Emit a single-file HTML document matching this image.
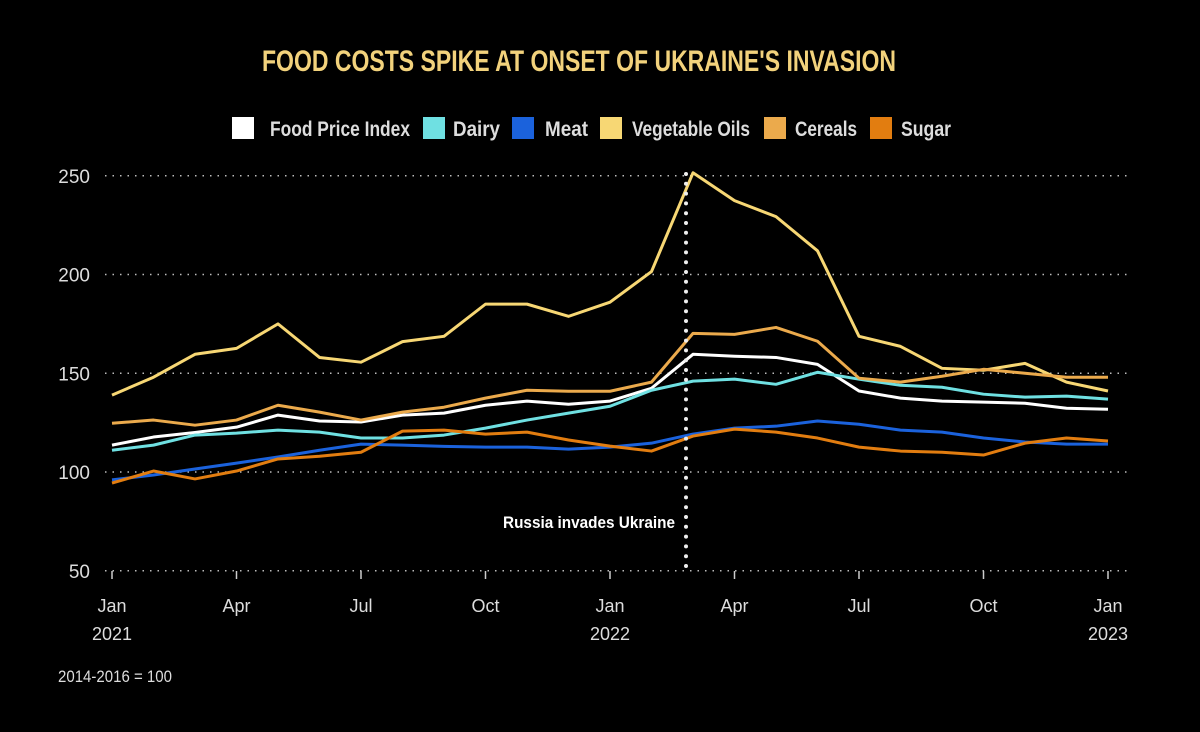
<!DOCTYPE html>
<html><head><meta charset="utf-8"><style>
html,body{margin:0;padding:0;background:#000;}
svg{display:block;font-family:"Liberation Sans",sans-serif;}
</style></head><body>
<svg id="chart" width="1200" height="732" viewBox="0 0 1200 732">
<rect width="1200" height="732" fill="#000"/>
<text x="262" y="71" fill="#f2d27c" font-size="30" font-weight="bold" textLength="634" lengthAdjust="spacingAndGlyphs">FOOD COSTS SPIKE AT ONSET OF UKRAINE'S INVASION</text>
<g id="legend"></g>
<g id="grid"></g>
<g id="axes"></g>
<g id="lines"></g>
<line x1="686" y1="174" x2="686" y2="570" stroke="#eee" stroke-width="4" stroke-linecap="round" stroke-dasharray="0,9.8"/>
<text x="675" y="528" fill="#fff" font-size="17" font-weight="bold" text-anchor="end" textLength="172" lengthAdjust="spacingAndGlyphs">Russia invades Ukraine</text>
<text x="58" y="682" fill="#ddd" font-size="17" textLength="114" lengthAdjust="spacingAndGlyphs">2014-2016 = 100</text>
</svg>
<script>
const months = ["Jan 2021","Feb","Mar","Apr","May","Jun","Jul","Aug","Sep","Oct","Nov","Dec","Jan 2022","Feb","Mar","Apr","May","Jun","Jul","Aug","Sep","Oct","Nov","Dec","Jan 2023"];
const yTicks = [50,100,150,200,250];
const xTickLabels = ["Jan","Apr","Jul","Oct","Jan","Apr","Jul","Oct","Jan"];
const xTickIdx = [0,3,6,9,12,15,18,21,24];
const yearLabels = {0:"2021",12:"2022",24:"2023"};
const seriesNames = ["Food Price Index","Dairy","Meat","Vegetable Oils","Cereals","Sugar"];
const seriesColors = ["#ffffff","#6fe0e2","#1b62dc","#f7d774","#ebaa4c","#e27d10"];
const foodIndex = [113.6,117.7,120,122.7,128.8,125.8,125.3,128.8,129.8,133.8,135.9,134.3,135.9,142.4,159.6,158.6,158,154.5,141,137.4,135.9,135.4,134.8,132.3,131.8];
const dairy = [111,113.6,118.7,119.7,121.2,120.2,117.2,117.2,118.7,122.2,126.3,129.8,133.3,141.4,146,147,144.4,150.5,147,143.9,142.9,139.4,137.9,138.4,136.9];
const meat = [96,98.5,101.5,104.5,107.6,111,114.1,113.6,113,112.6,112.6,111.6,112.6,114.6,119.2,122.2,123.2,125.8,124.2,121.2,120.2,117.2,115.2,114.1,114.1];
const vegOils = [138.9,148,159.6,162.6,175,158,155.6,166,168.7,185,185,178.8,186,201.5,251.5,237.4,229.3,212,168.7,163.6,152.5,151.5,155,145.5,141];
const cereals = [124.7,126.3,123.7,126.3,133.8,130.3,126.3,130.3,132.8,137.4,141.4,140.9,140.9,145.5,170.2,169.7,173.2,166.2,147.5,145.5,148.5,152,150,148,148];
const sugar = [94.4,100.5,96.5,100.5,106.6,108,110,120.7,121.2,119.2,120.2,116.2,113.1,110.6,118.2,121.7,120.2,117.2,112.6,110.6,110,108.6,114.6,117.2,115.7];
const allSeries = [foodIndex,dairy,meat,vegOils,cereals,sugar];

const NS="http://www.w3.org/2000/svg";
function x(i){return 112+i*(1108-112)/24;}
function y(v){return 472-(v-100)*1.975;}
function mk(tag,attrs,parent){const e=document.createElementNS(NS,tag);for(const k in attrs)e.setAttribute(k,attrs[k]);parent.appendChild(e);return e;}

const grid=document.getElementById('grid'),axes=document.getElementById('axes'),lines=document.getElementById('lines'),legend=document.getElementById('legend');
yTicks.forEach(t=>{
  const l=mk('line',{x1:105,x2:1128,y1:y(t),y2:y(t),stroke:'#bbb','stroke-width':1.6,'stroke-dasharray':'1.5,6'},grid);
  
  
  const tx=mk('text',{x:90,y:y(t)+7,fill:'#ddd','font-size':19,'text-anchor':'end'},axes);
  
  
  tx.textContent=t;
});
xTickIdx.forEach((idx,k)=>{
  const l=mk('line',{x1:x(idx),x2:x(idx),y1:571,y2:579,stroke:'#ccc','stroke-width':1.5},axes);
  
  
  const tx=mk('text',{x:x(idx),y:612,fill:'#ddd','font-size':18,'text-anchor':'middle'},axes);
  
  
  tx.textContent=xTickLabels[k];
  if(yearLabels[idx]){
    const yt=mk('text',{x:x(idx),y:640,fill:'#ddd','font-size':18,'text-anchor':'middle'},axes);
    
    
    yt.textContent=yearLabels[idx];
  }
});
allSeries.forEach((s,si)=>{
  const p=mk('polyline',{points:s.map((v,i)=>x(i)+','+y(v)).join(' '),fill:'none',stroke:seriesColors[si],'stroke-width':3,'stroke-linejoin':'round'},lines);
  
  
});
const legX=[232,423,512,600,764,870];
const legTX=[270,453,545,632,795,901];
const legW=[140,47,43,118,62,50];
seriesNames.forEach((n,i)=>{
  const r=mk('rect',{x:legX[i],y:117,width:22,height:22,fill:seriesColors[i]},legend);
  
  
  const t=mk('text',{x:legTX[i],y:136,fill:'#ddd','font-size':21,'font-weight':'bold',textLength:legW[i],lengthAdjust:'spacingAndGlyphs'},legend);
  
  
  t.textContent=n;
});
</script>
</body></html>
